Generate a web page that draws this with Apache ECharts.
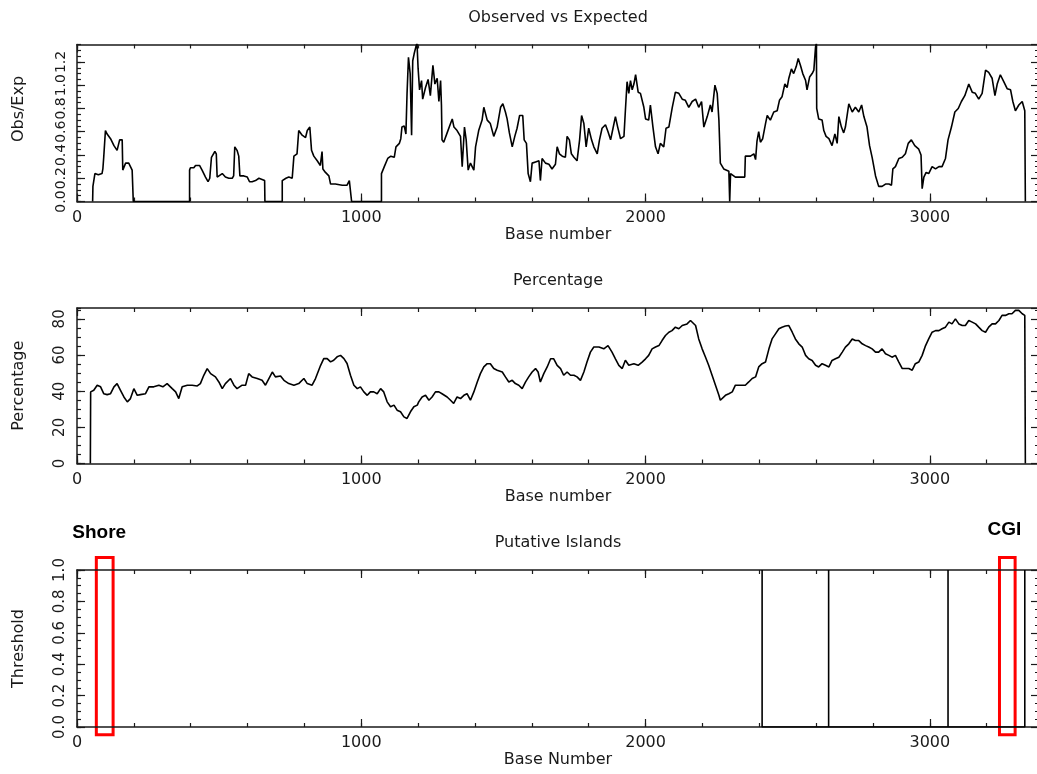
<!DOCTYPE html>
<html>
<head>
<meta charset="utf-8">
<title>CpG plot</title>
<script src="https://cdn.jsdelivr.net/npm/echarts@6/dist/echarts.min.js"></script>
<style>
	html, body { margin: 0; padding: 0; background: #fff; }
	#main { width: 1037px; height: 774px; }
</style>
</head>
<body>
<div id="main"></div>
<script>
// observed / expected ratio, [base, value]
var obsExp = [
	[55,0],[56,0.13],[63,0.24],[75,0.23],[88,0.24],[91,0.28],[94,0.38],[100,0.61],[106,0.58],[112,0.58],[118,0.54],[130,0.48],[141,0.44],[147,0.43],[150,0.53],[159,0.53],[161,0.27],[171,0.33],[182,0.33],[188,0.30],[194,0.27],[197,0.26],[198,0],
	[396,0],[396,0.27],[399,0.29],[411,0.29],[417,0.31],[431,0.31],[440,0.27],[452,0.21],[461,0.17],[467,0.20],[473,0.38],[479,0.39],[485,0.43],[490,0.41],[493,0.21],[499,0.22],[511,0.24],[522,0.21],[534,0.20],[546,0.20],[551,0.22],[555,0.47],[563,0.44],[569,0.39],[573,0.22],[587,0.22],[599,0.21],[607,0.17],[616,0.17],[628,0.18],[640,0.20],[651,0.19],[660,0.18],[661,0],
	[722,0],[722,0.18],[735,0.20],[745,0.21],[757,0.20],[763,0.39],[774,0.41],[780,0.61],[792,0.57],[804,0.55],[810,0.61],[819,0.64],[825,0.44],[833,0.39],[845,0.35],[856,0.31],[862,0.43],[865,0.28],[874,0.25],[886,0.22],[892,0.15],[909,0.15],[933,0.14],[950,0.14],[958,0.18],[965,0.17],[966,0],
	[1071,0],[1071,0.24],[1081,0.30],[1093,0.37],[1104,0.39],[1116,0.38],[1122,0.47],[1134,0.50],[1139,0.54],[1143,0.64],[1151,0.65],[1157,0.58],[1161,0.93],[1166,1.24],[1172,1.10],[1177,0.57],[1181,1.21],[1186,1.27],[1192,1.33],[1196,1.36],[1200,1.14],[1205,0.96],[1212,1.04],[1216,0.88],[1226,0.98],[1235,1.05],[1243,0.91],[1252,1.17],[1259,1.01],[1267,1.06],[1273,0.86],[1279,1.04],[1282,0.83],[1284,0.53],[1290,0.51],[1302,0.59],[1314,0.67],[1320,0.71],[1326,0.64],[1337,0.61],[1349,0.56],[1355,0.30],[1363,0.64],[1369,0.53],[1376,0.27],[1384,0.33],[1396,0.27],[1402,0.47],[1413,0.61],[1425,0.70],[1431,0.81],[1443,0.70],[1454,0.67],[1466,0.56],[1478,0.64],[1490,0.81],[1498,0.84],[1507,0.77],[1513,0.71],[1521,0.59],[1531,0.47],[1540,0.56],[1548,0.63],[1557,0.74],[1568,0.74],[1573,0.53],[1581,0.50],[1587,0.24],[1595,0.17],[1601,0.33],[1613,0.34],[1625,0.35],[1630,0.18],[1636,0.37],[1648,0.33],[1660,0.32],[1671,0.28],[1683,0.32],[1689,0.47],[1697,0.41],[1707,0.39],[1718,0.38],[1724,0.56],[1732,0.53],[1739,0.41],[1748,0.38],[1759,0.35],[1768,0.53],[1775,0.74],[1783,0.67],[1791,0.47],[1800,0.63],[1810,0.53],[1818,0.47],[1830,0.41],[1838,0.53],[1847,0.63],[1859,0.66],[1868,0.60],[1877,0.53],[1883,0.60],[1894,0.73],[1902,0.64],[1912,0.54],[1924,0.56],[1929,0.78],[1935,1.03],[1941,0.93],[1947,1.04],[1953,0.96],[1959,1.01],[1965,1.09],[1974,0.94],[1982,0.93],[1994,0.81],[2000,0.71],[2011,0.70],[2017,0.83],[2026,0.64],[2035,0.47],[2044,0.41],[2052,0.50],[2064,0.47],[2072,0.63],[2082,0.64],[2094,0.81],[2105,0.94],[2117,0.93],[2129,0.88],[2140,0.87],[2152,0.81],[2164,0.86],[2176,0.88],[2187,0.81],[2197,0.86],[2205,0.64],[2217,0.73],[2228,0.83],[2234,0.77],[2244,1.00],[2252,0.93],[2258,0.70],[2263,0.33],[2275,0.28],[2293,0.26],[2296,0],[2299,0.24],[2316,0.21],[2334,0.21],[2349,0.21],[2351,0.39],[2369,0.39],[2381,0.41],[2387,0.36],[2392,0.52],[2398,0.60],[2404,0.51],[2412,0.54],[2422,0.67],[2428,0.74],[2439,0.70],[2451,0.77],[2463,0.78],[2471,0.87],[2480,0.90],[2490,1.01],[2498,0.98],[2504,1.06],[2513,1.14],[2521,1.10],[2530,1.16],[2537,1.23],[2545,1.17],[2553,1.10],[2563,1.04],[2568,0.96],[2577,1.07],[2586,1.10],[2592,1.13],[2598,1.33],[2601,1.36],[2602,0.80],[2609,0.71],[2621,0.70],[2627,0.61],[2635,0.56],[2645,0.54],[2656,0.48],[2666,0.58],[2674,0.50],[2680,0.73],[2689,0.64],[2697,0.59],[2703,0.64],[2715,0.84],[2727,0.77],[2738,0.81],[2750,0.77],[2760,0.83],[2768,0.73],[2779,0.64],[2788,0.48],[2797,0.38],[2809,0.22],[2820,0.13],[2832,0.13],[2844,0.15],[2856,0.15],[2865,0.14],[2870,0.28],[2879,0.30],[2891,0.37],[2903,0.38],[2914,0.41],[2924,0.50],[2935,0.53],[2947,0.48],[2961,0.45],[2969,0.40],[2973,0.11],[2979,0.21],[2987,0.25],[2996,0.24],[3008,0.30],[3020,0.28],[3032,0.30],[3043,0.30],[3055,0.37],[3064,0.53],[3076,0.64],[3088,0.77],[3100,0.80],[3111,0.86],[3123,0.91],[3137,1.01],[3149,0.94],[3160,0.93],[3172,0.88],[3184,0.93],[3196,1.13],[3207,1.11],[3219,1.06],[3229,0.91],[3237,1.01],[3248,1.09],[3260,1.03],[3272,0.97],[3284,0.96],[3292,0.86],[3301,0.78],[3313,0.83],[3325,0.86],[3334,0.78],[3336,0]
];

// GC percentage, [base, value]
var gcPercent = [
	[47,0],[48,39.6],[53,38.6],[59,40.5],[71,43.3],[83,42.4],[94,38.6],[106,38.1],[118,38.6],[130,42.4],[141,44.2],[153,40.5],[165,36.8],[177,34.1],[188,35.9],[200,41.4],[212,37.7],[223,38.1],[241,38.6],[253,42.4],[270,42.4],[288,43.3],[302,42.4],[317,44.2],[335,41.4],[347,39.6],[358,35.9],[370,42.4],[388,43.3],[405,43.3],[423,42.9],[434,44.2],[446,48.8],[458,52.5],[470,49.7],[487,47.9],[499,45.1],[511,41.4],[522,44.2],[540,47],[552,43.3],[563,41.4],[581,43.3],[593,43.3],[604,49.7],[616,47.9],[634,47],[651,46],[663,43.3],[675,47],[687,50.6],[698,47.9],[716,48.4],[728,46],[745,44.2],[763,43.3],[780,44.2],[798,47],[810,44.2],[827,43.3],[839,47],[857,54.3],[868,58],[880,58],[892,56.2],[903,57.1],[915,59],[927,59.8],[939,58],[950,55.3],[962,48.8],[974,43.3],[986,41.4],[997,42.4],[1009,39.6],[1021,37.7],[1032,39.6],[1044,39.6],[1056,38.6],[1068,41.4],[1079,39.6],[1091,34.1],[1103,31.4],[1115,32.3],[1126,29.5],[1138,28.6],[1150,25.8],[1161,24.9],[1173,28.6],[1185,31.4],[1191,30.4],[1197,32.3],[1202,34.1],[1208,35],[1214,36.8],[1226,37.7],[1238,35],[1249,36.8],[1261,39.6],[1273,39.6],[1284,38.6],[1302,36.8],[1314,35],[1325,33.2],[1337,36.8],[1349,35.9],[1361,37.7],[1372,38.6],[1384,35],[1396,39.6],[1408,45.1],[1419,49.7],[1431,53.4],[1443,55.2],[1454,55.2],[1466,52.5],[1478,51.6],[1496,50.6],[1507,47.9],[1519,45.1],[1531,46],[1542,44.2],[1554,43.3],[1566,41.4],[1578,45.1],[1589,47.9],[1601,50.6],[1613,52.5],[1622,50.6],[1630,45.1],[1642,49.7],[1654,53.4],[1666,57.9],[1677,57.9],[1689,54.3],[1701,52.5],[1712,48.8],[1724,50.6],[1736,48.8],[1748,48.8],[1759,47.9],[1771,46],[1783,50.6],[1794,56.1],[1806,61.6],[1818,64.4],[1836,64.4],[1853,63.4],[1868,65.2],[1882,61.6],[1894,57.9],[1906,54.3],[1918,52.5],[1929,57.1],[1941,54.3],[1959,55.2],[1974,54.3],[1988,56.1],[2000,57.9],[2011,59.8],[2023,63.4],[2035,64.4],[2047,65.2],[2058,68],[2070,70.8],[2082,72.6],[2093,73.5],[2105,75.4],[2117,74.5],[2129,76.3],[2146,77.2],[2158,79.1],[2164,80],[2176,76.3],[2187,68.9],[2199,63.4],[2211,58.8],[2222,54.3],[2234,48.8],[2246,43.3],[2258,37.7],[2263,35],[2269,35],[2281,37.7],[2293,38.6],[2305,39.6],[2316,43.3],[2334,43.3],[2351,43.3],[2363,45.1],[2375,47],[2387,47.9],[2398,53.4],[2410,55.2],[2422,56.1],[2434,63.4],[2445,68.9],[2457,71.7],[2469,74.5],[2480,75.4],[2492,76],[2504,76.3],[2516,72.6],[2527,68.9],[2539,66.2],[2551,64.4],[2563,59.8],[2574,57.9],[2586,57],[2598,54.3],[2609,53.4],[2621,55.2],[2633,54.3],[2645,53.4],[2656,57],[2668,57.9],[2680,58.8],[2692,61.6],[2703,64.4],[2715,66.2],[2727,68.9],[2738,68],[2750,68],[2762,66.2],[2774,65.2],[2785,64.4],[2797,63.4],[2809,61.6],[2820,61.6],[2832,63.4],[2844,60.7],[2856,59.8],[2867,58.8],[2879,59.8],[2891,56.1],[2903,52.5],[2914,52.5],[2926,52.5],[2938,51.6],[2949,55.2],[2961,56.1],[2973,59.8],[2985,65.2],[2996,68.9],[3008,72.6],[3020,73.5],[3032,73.5],[3043,74.5],[3055,75.4],[3067,78.2],[3078,77.2],[3090,80],[3102,77.2],[3114,76.3],[3125,76.3],[3137,79.1],[3149,78.2],[3161,77.2],[3172,75.4],[3184,73.5],[3196,72.6],[3207,75.4],[3219,77.2],[3231,77.2],[3243,79.1],[3254,81.9],[3266,81.9],[3278,82.8],[3289,82.8],[3301,84.7],[3313,84.7],[3325,82.8],[3334,81.9],[3336,0]
];

// putative island boundaries (base)
var islandX = [2410, 2644, 3064, 3334];

// axis ranges and tick steps
var xMax = 3384;
var xSteps = [1000, 200];
var obsRange = [0, 1.35], obsSteps = [0.2, 0.05];
var pctRange = [0, 86], pctSteps = [20, 5];
var thrRange = [0, 1], thrSteps = [0.2, 0.05];

// annotation boxes (base range, threshold range) and their labels
var shoreBox = [68, 127], cgiBox = [3245, 3300], boxY = [-0.05, 1.08];
var boxLabels = [['Shore', 78, 1.24], ['CGI', 3262, 1.255]];

var FONT = 'DejaVu Sans';
var INK = '#1a1a1a';

var panels = [
	{top: 44.5, height: 157, title: 'Observed vs Expected', xName: 'Base number', yName: 'Obs/Exp', range: obsRange, steps: obsSteps, digits: 1, labelSize: 14, namePad: [0, 0, 0, 28]},
	{top: 308, height: 155.5, title: 'Percentage', xName: 'Base number', yName: 'Percentage', range: pctRange, steps: pctSteps, digits: 0, labelSize: 15, namePad: 0},
	{top: 570, height: 157, title: 'Putative Islands', xName: 'Base Number', yName: 'Threshold', range: thrRange, steps: thrSteps, digits: 1, labelSize: 15, namePad: 0}
];

function textStyle(size) {
	return {fontFamily: FONT, fontSize: size, color: INK, fontWeight: 'normal'};
}

function makeX(g, pos, major, p) {
	var name = '';
	if (major) {
		name = pos === 'bottom' ? p.xName : p.title;
	}
	return {
		type: 'value',
		gridIndex: g,
		position: pos,
		min: 0,
		max: xMax,
		interval: major ? xSteps[0] : xSteps[1],
		name: name,
		nameLocation: 'middle',
		nameGap: pos === 'bottom' ? 25 : 19,
		nameTextStyle: textStyle(16),
		axisLine: {show: major, onZero: false, lineStyle: {color: INK, width: 1.5}},
		axisTick: {show: true, inside: true, length: major ? 8 : 4, lineStyle: {color: INK, width: 1.2}},
		axisLabel: {
			show: major && pos === 'bottom',
			margin: 8,
			showMinLabel: true,
			showMaxLabel: false,
			fontFamily: FONT, fontSize: 16, color: INK,
			formatter: function(v) {
				return String(v);
			}
		},
		splitLine: {show: false}
	};
}

function makeY(g, pos, major, p) {
	var ratio = p.range[1] / p.steps[0];
	var maxOnTick = Math.abs(ratio - Math.round(ratio)) < 1e-6;
	return {
		type: 'value',
		gridIndex: g,
		position: pos,
		min: p.range[0],
		max: p.range[1],
		interval: major ? p.steps[0] : p.steps[1],
		name: major && pos === 'left' ? p.yName : '',
		nameLocation: 'middle',
		nameGap: 50,
		nameTextStyle: Object.assign(textStyle(16), {padding: p.namePad}),
		axisLine: {show: major, onZero: false, lineStyle: {color: INK, width: 1.5}},
		axisTick: {show: true, inside: true, length: major ? 8 : 4, lineStyle: {color: INK, width: 1.2}},
		axisLabel: {
			show: major && pos === 'left',
			rotate: 90,
			margin: 9,
			showMinLabel: true,
			showMaxLabel: maxOnTick,
			hideOverlap: false,
			fontFamily: FONT, fontSize: p.labelSize, color: INK,
			formatter: function(v) {
				return v.toFixed(p.digits);
			}
		},
		splitLine: {show: false}
	};
}

var grids = [], xAxes = [], yAxes = [];
for (var g = 0; g < panels.length; g++) {
	var p = panels[g];
	grids.push({left: 77, right: -2, top: p.top, height: p.height, containLabel: false, outerBoundsMode: 'none'});
	xAxes.push(makeX(g, 'bottom', true, p), makeX(g, 'bottom', false, p), makeX(g, 'top', true, p), makeX(g, 'top', false, p));
	yAxes.push(makeY(g, 'left', true, p), makeY(g, 'left', false, p), makeY(g, 'right', true, p), makeY(g, 'right', false, p));
}

// each island drawn as a full-height vertical line
var islandData = [];
for (var i = 0; i < islandX.length; i++) {
	islandData.push([islandX[i], thrRange[0]], [islandX[i], thrRange[1]], [islandX[i], thrRange[0]]);
}

function lineSeries(idx, data) {
	return {
		type: 'line',
		xAxisIndex: idx * 4,
		yAxisIndex: idx * 4,
		data: data,
		showSymbol: false,
		symbol: 'none',
		silent: true,
		clip: true,
		lineStyle: {color: '#000', width: 1.6},
		animation: false
	};
}

var chart = echarts.init(document.getElementById('main'), null, {renderer: 'canvas'});
chart.setOption({
	backgroundColor: '#fff',
	animation: false,
	grid: grids,
	xAxis: xAxes,
	yAxis: yAxes,
	series: [lineSeries(0, obsExp), lineSeries(1, gcPercent), lineSeries(2, islandData)]
});

// red annotation boxes placed through the bottom panel's scales
var finder = {xAxisIndex: 8, yAxisIndex: 8};
var elements = [];
[shoreBox, cgiBox].forEach(function(box) {
	var a = chart.convertToPixel(finder, [box[0], boxY[0]]);
	var b = chart.convertToPixel(finder, [box[1], boxY[1]]);
	elements.push({
		type: 'rect',
		silent: true,
		shape: {x: a[0], y: b[1], width: b[0] - a[0], height: a[1] - b[1]},
		style: {fill: 'none', stroke: '#ff0000', lineWidth: 3}
	});
});
boxLabels.forEach(function(lb) {
	var pt = chart.convertToPixel(finder, [lb[1], lb[2]]);
	elements.push({
		type: 'text',
		silent: true,
		x: pt[0],
		y: pt[1],
		style: {
			text: lb[0],
			align: 'center',
			verticalAlign: 'middle',
			fontFamily: 'Liberation Sans',
			fontWeight: 'bold',
			fontSize: 19,
			fill: '#000'
		}
	});
});
chart.setOption({graphic: elements});
</script>
</body>
</html>
